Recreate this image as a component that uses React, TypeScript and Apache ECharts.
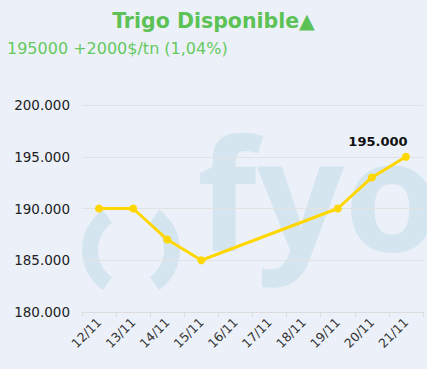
import React, { useEffect, useRef } from "react";
import * as echarts from "echarts";

const titleText = "Trigo Disponible▲";
const subtitleText = "195000 +2000$/tn (1,04%)";
const categories = ["12/11", "13/11", "14/11", "15/11", "16/11", "17/11", "18/11", "19/11", "20/11", "21/11"];
const prices: (number | null)[] = [190000, 190000, 187000, 185000, null, null, null, 190000, 193000, 195000];
const yTicks = { min: 180000, max: 200000, interval: 5000 };

function fmt(v: number): string {
  const s = Math.round(v).toString();
  return s.replace(/\B(?=(\d{3})+(?!\d))/g, ".");
}

export default function App() {
  const ref = useRef<HTMLDivElement>(null);
  useEffect(() => {
    document.body.style.margin = "0";
    if (!ref.current) return;
    const chart = echarts.init(ref.current, null, { renderer: "svg" });
    const lastIdx = prices.length - 1;
    const data = prices.map((v, i) =>
      i === lastIdx
        ? {
            value: v,
            label: {
              show: true,
              position: "top",
              distance: 5,
              offset: [-28, 0],
              fontFamily: "DejaVu Sans",
              fontWeight: "bold",
              fontSize: 13,
              color: "#111",
              formatter: (p: any) => fmt(p.value),
            },
          }
        : v
    );
    chart.setOption({
      animation: false,
      backgroundColor: "#ecf1f9",
      title: [
        {
          text: titleText,
          left: "center",
          top: 5,
          textStyle: { fontFamily: "DejaVu Sans", fontWeight: "bold", fontSize: 20.5, color: "#5cc256" },
        },
        {
          text: subtitleText,
          left: 2,
          top: 35,
          textStyle: { fontFamily: "DejaVu Sans", fontWeight: "normal", fontSize: 16, color: "#66c95f" },
        },
      ],
      graphic: [
        {
          type: "sector",
          z: -10,
          silent: true,
          shape: { cx: 131, cy: 250, r0: 33, r: 49, startAngle: (125 * Math.PI) / 180, endAngle: (235 * Math.PI) / 180 },
          style: { fill: "#d5e5f0" },
        },
        {
          type: "sector",
          z: -10,
          silent: true,
          shape: { cx: 131, cy: 250, r0: 33, r: 49, startAngle: (-55 * Math.PI) / 180, endAngle: (55 * Math.PI) / 180 },
          style: { fill: "#d5e5f0" },
        },
        {
          type: "text",
          z: -10,
          silent: true,
          x: 197,
          y: 268,
          style: {
            text: "fyo",
            fill: "#d5e5f0",
            font: "bold 154px 'Open Sans'",
            textAlign: "left",
            textVerticalAlign: "bottom",
          },
        },
      ],
      grid: { left: 82, right: 4, top: 105, bottom: 57 },
      xAxis: {
        type: "category",
        data: categories,
        boundaryGap: true,
        axisLine: { lineStyle: { color: "#dcdcdc" } },
        axisTick: { show: true, length: 5, lineStyle: { color: "#dcdcdc" } },
        axisLabel: { rotate: 45, fontFamily: "DejaVu Sans", fontSize: 12.5, color: "#333", margin: 8 },
      },
      yAxis: {
        type: "value",
        min: yTicks.min,
        max: yTicks.max,
        interval: yTicks.interval,
        axisLine: { show: false },
        axisTick: { show: false },
        splitLine: { lineStyle: { color: "#e2e2e2" } },
        axisLabel: { fontFamily: "DejaVu Sans", fontSize: 13.5, color: "#222", margin: 12, formatter: (v: number) => fmt(v) },
      },
      series: [
        {
          type: "line",
          data,
          connectNulls: true,
          color: "#ffd700",
          lineStyle: { width: 3, color: "#ffd700" },
          symbol: "circle",
          symbolSize: 8,
          itemStyle: { color: "#ffd700" },
        },
      ],
    });
    return () => chart.dispose();
  }, []);
  return <div ref={ref} style={{ width: 427, height: 369 }} />;
}
